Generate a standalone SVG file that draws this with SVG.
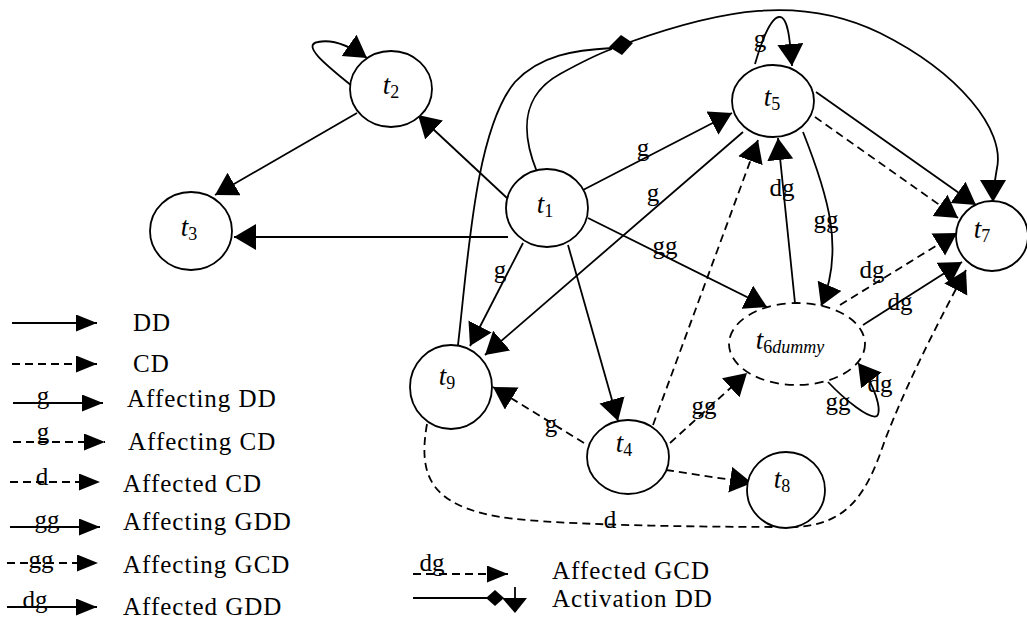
<svg xmlns="http://www.w3.org/2000/svg" width="1027" height="633" viewBox="0 0 1027 633">
<defs>
<marker id="a" markerUnits="userSpaceOnUse" markerWidth="24" markerHeight="28" refX="22" refY="13" orient="auto"><path d="M0,0 L22,13 L0,26 z" fill="#000"/></marker>
<marker id="la" markerUnits="userSpaceOnUse" markerWidth="22" markerHeight="18" refX="21" refY="8.5" orient="auto"><path d="M0,0 L21,8.5 L0,17 z" fill="#000"/></marker>
</defs>
<style>
.s{fill:none;stroke:#000;stroke-width:1.8}
.d{fill:none;stroke:#000;stroke-width:1.8;stroke-dasharray:8 5}
.n{fill:#fff;stroke:#000;stroke-width:1.8}
.nd{fill:#fff;stroke:#000;stroke-width:1.8;stroke-dasharray:9 6}
text{font-family:"Liberation Serif","Times New Roman",serif;fill:#000}
.t{font-size:27px;text-anchor:middle}
.it{font-style:italic}
.sub{font-size:18px}
.l{font-size:25px;text-anchor:middle}
.lg{font-size:25px;letter-spacing:1px}
</style>
<rect width="1027" height="633" fill="#fff"/>
<g id="connectors">
<path class="s" d="M352,86 C 330,68 300,45 318,42 C 332,39 350,46 367,58" marker-end="url(#a)"/>
<path class="s" d="M357,113 L215,195" marker-end="url(#a)"/>
<path class="s" d="M507,198 L418,115" marker-end="url(#a)"/>
<path class="s" d="M508,237 L234,237" marker-end="url(#a)"/>
<path class="s" d="M583,190 L732,113" marker-end="url(#a)"/>
<path class="s" d="M743,132 L485,355" marker-end="url(#a)"/>
<path class="s" d="M523,243 L470,346" marker-end="url(#a)"/>
<path class="s" d="M568,245 L618,421" marker-end="url(#a)"/>
<path class="s" d="M588,218 L767,307" marker-end="url(#a)"/>
<path class="d" d="M653,425 L758,140" marker-end="url(#a)"/>
<path class="s" d="M795,303 L778,138" marker-end="url(#a)"/>
<path class="s" d="M803,132 C 828,195 845,250 821,306" marker-end="url(#a)"/>
<path class="s" d="M816,92 L976,205" marker-end="url(#a)"/>
<path class="d" d="M815,117 L958,218" marker-end="url(#a)"/>
<path class="s" d="M537,172 C 520,130 522,95 560,74 C 580,63 595,55 612,49"/>
<path class="s" d="M458,345 C 468,260 475,130 515,82 C 540,55 575,50 612,48"/>
<path class="s" d="M630,42 C 720,10 800,-6 880,33 C 960,73 1005,130 997,168 C 995,180 993,190 993,202" marker-end="url(#a)"/>
<polygon points="609,47 621,35 633,43 622,55" fill="#000"/>
<path class="s" d="M755,64 C 762,40 770,18 779,17 C 788,16 790,40 792,66" marker-end="url(#a)"/>
<path class="d" d="M840,305 L957,233" marker-end="url(#a)"/>
<path class="s" d="M863,325 L962,262" marker-end="url(#a)"/>
<path class="s" d="M828,382 C 845,400 870,420 877,416 C 882,410 875,385 858,363" marker-end="url(#a)"/>
<path class="d" d="M670,443 L747,373" marker-end="url(#a)"/>
<path class="d" d="M584,443 L493,387" marker-end="url(#a)"/>
<path class="d" d="M666,470 L752,483" marker-end="url(#a)"/>
<path class="d" d="M427,424 C 418,475 430,505 500,517 C 560,526 720,527 790,527 C 850,527 868,490 885,440 C 910,375 945,310 966,270" marker-end="url(#a)"/>
</g>
<g id="t2"><ellipse class="n" cx="391" cy="89" rx="41" ry="38"/><text class="t" x="391" y="94"><tspan class="it">t</tspan><tspan class="sub" dy="4">2</tspan></text></g>
<g id="t3"><ellipse class="n" cx="191" cy="231" rx="41" ry="39"/><text class="t" x="189" y="236"><tspan class="it">t</tspan><tspan class="sub" dy="4">3</tspan></text></g>
<g id="t1"><ellipse class="n" cx="547" cy="208" rx="41" ry="39"/><text class="t" x="545" y="213"><tspan class="it">t</tspan><tspan class="sub" dy="4">1</tspan></text></g>
<g id="t5"><ellipse class="n" cx="773" cy="101" rx="41" ry="36"/><text class="t" x="772" y="106"><tspan class="it">t</tspan><tspan class="sub" dy="4">5</tspan></text></g>
<g id="t7"><ellipse class="n" cx="992" cy="236" rx="36" ry="35"/><text class="t" x="982" y="238"><tspan class="it">t</tspan><tspan class="sub" dy="4">7</tspan></text></g>
<g id="t6dummy"><ellipse class="nd" cx="797" cy="344" rx="68" ry="41"/><text class="t" x="790" y="349"><tspan class="it">t</tspan><tspan class="sub" dy="4">6</tspan><tspan class="sub it">dummy</tspan></text></g>
<g id="t9"><ellipse class="n" cx="451" cy="387" rx="41" ry="42"/><text class="t" x="447" y="385"><tspan class="it">t</tspan><tspan class="sub" dy="4">9</tspan></text></g>
<g id="t4"><ellipse class="n" cx="628" cy="457" rx="41" ry="37"/><text class="t" x="624" y="452"><tspan class="it">t</tspan><tspan class="sub" dy="4">4</tspan></text></g>
<g id="t8"><ellipse class="n" cx="786" cy="490" rx="39" ry="38"/><text class="t" x="782" y="488"><tspan class="it">t</tspan><tspan class="sub" dy="4">8</tspan></text></g>
<g id="edge-labels">
<text class="l" x="643" y="156">g</text>
<text class="l" x="653" y="201">g</text>
<text class="l" x="500" y="278">g</text>
<text class="l" x="665" y="254">gg</text>
<text class="l" x="782" y="196">dg</text>
<text class="l" x="826" y="228">gg</text>
<text class="l" x="760" y="47">g</text>
<text class="l" x="872" y="278">dg</text>
<text class="l" x="900" y="310">dg</text>
<text class="l" x="880" y="392">dg</text>
<text class="l" x="838" y="410">gg</text>
<text class="l" x="704" y="414">gg</text>
<text class="l" x="551" y="432">g</text>
<text class="l" x="610" y="528">d</text>
</g>
<g id="legend">
<path class="s" d="M12,323 L97,323" marker-end="url(#la)"/>
<text class="lg" x="133" y="331">DD</text>
<path class="d" d="M12,364 L97,364" marker-end="url(#la)"/>
<text class="lg" x="133" y="372">CD</text>
<path class="s" d="M13,403 L103,403" marker-end="url(#la)"/>
<text class="l" x="43" y="404">g</text>
<text class="lg" x="127" y="407">Affecting DD</text>
<path class="d" d="M13,442 L105,442" marker-end="url(#la)"/>
<text class="l" x="43" y="440">g</text>
<text class="lg" x="128" y="450">Affecting CD</text>
<path class="d" d="M10,482 L100,482" marker-end="url(#la)"/>
<text class="l" x="42" y="485">d</text>
<text class="lg" x="123" y="492">Affected CD</text>
<path class="s" d="M10,527 L100,527" marker-end="url(#la)"/>
<text class="l" x="47" y="528">gg</text>
<text class="lg" x="123" y="530">Affecting GDD</text>
<path class="d" d="M7,563 L98,563" marker-end="url(#la)"/>
<text class="l" x="41" y="568">gg</text>
<text class="lg" x="123" y="573">Affecting GCD</text>
<path class="s" d="M7,607 L97,607" marker-end="url(#la)"/>
<text class="l" x="35" y="608">dg</text>
<text class="lg" x="123" y="615">Affected GDD</text>
<path class="d" d="M413,574 L508,574" marker-end="url(#la)"/>
<text class="l" x="432" y="571">dg</text>
<text class="lg" x="552" y="579">Affected GCD</text>
<path class="s" d="M413,598 L487,598"/>
<polygon points="486,598 495,590 504,598 495,606" fill="#000"/>
<polygon points="502,598 527,598 515,613" fill="#000"/>
<path class="s" d="M515,587 L515,601"/>
<text class="lg" x="552" y="607">Activation DD</text>
</g>
</svg>
